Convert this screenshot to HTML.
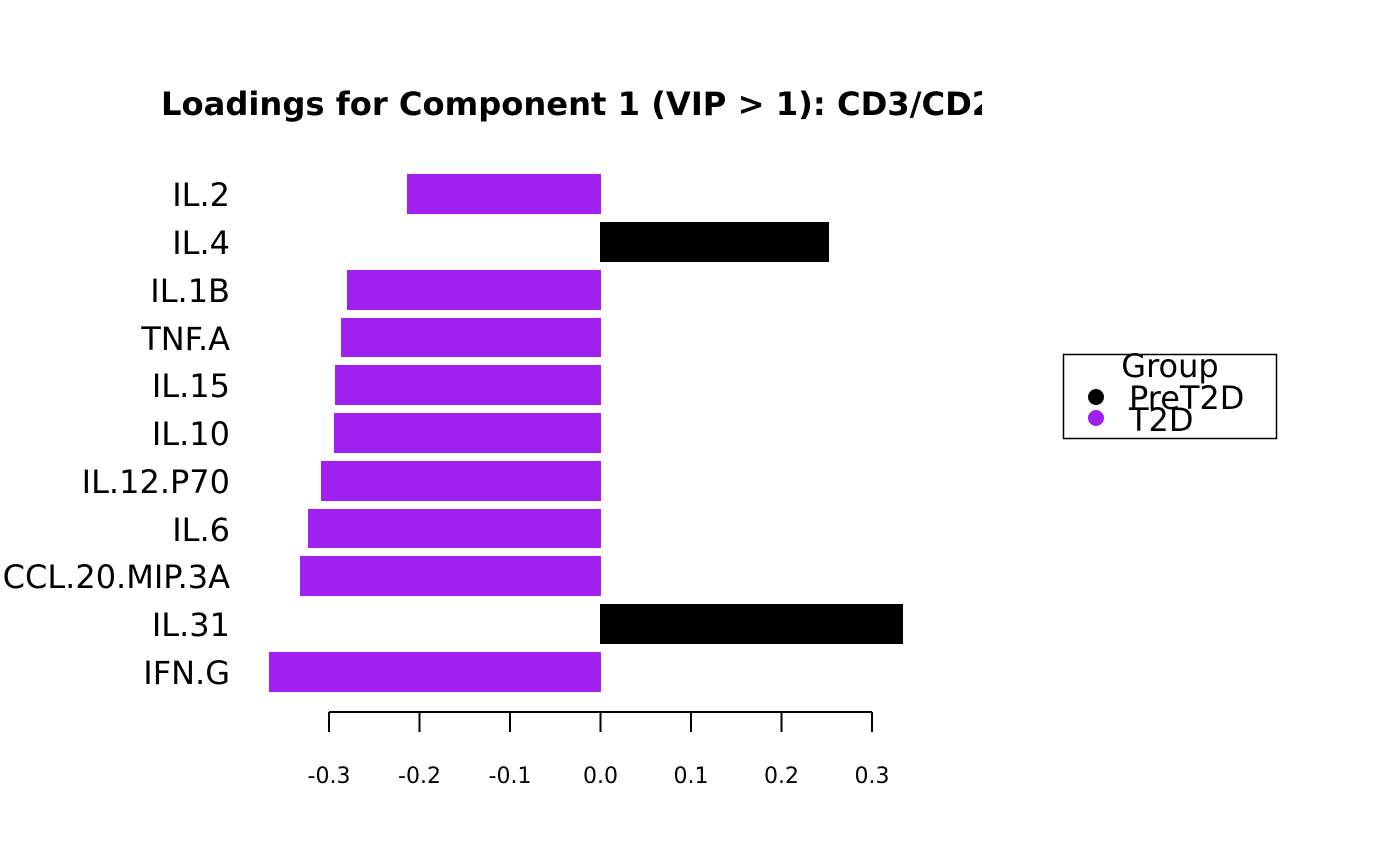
<!DOCTYPE html>
<html><head><style>
body{margin:0;background:#fff}
svg{display:block;font-family:"DejaVu Sans","Liberation Sans",sans-serif}
</style></head><body>
<svg width="1400" height="866" viewBox="0 0 1400 866" xmlns="http://www.w3.org/2000/svg">
<defs><clipPath id="c"><rect x="0" y="0" width="982" height="866"/></clipPath></defs>
<text x="161" y="115" font-size="32.2" font-weight="bold" clip-path="url(#c)">Loadings for Component 1 (VIP &gt; 1): CD3/CD28</text>
<g fill="#A020F0">
<rect x="407" y="174" width="194" height="40"/>
<rect x="347" y="270" width="254" height="40"/>
<rect x="341" y="318" width="260" height="39"/>
<rect x="335" y="365" width="266" height="40"/>
<rect x="334" y="413" width="267" height="40"/>
<rect x="321" y="461" width="280" height="40"/>
<rect x="308" y="509" width="293" height="39"/>
<rect x="300" y="556" width="301" height="40"/>
<rect x="269" y="652" width="332" height="40"/>
</g>
<g fill="#000">
<rect x="600" y="222" width="229" height="40"/>
<rect x="600" y="604" width="303" height="40"/>
</g>
<g font-size="32" text-anchor="end">
<text x="230" y="206">IL.2</text>
<text x="230" y="254">IL.4</text>
<text x="230" y="302">IL.1B</text>
<text x="230" y="350">TNF.A</text>
<text x="230" y="397">IL.15</text>
<text x="230" y="445">IL.10</text>
<text x="230" y="493">IL.12.P70</text>
<text x="230" y="541">IL.6</text>
<text x="230" y="588">CCL.20.MIP.3A</text>
<text x="230" y="636">IL.31</text>
<text x="230" y="684">IFN.G</text>
</g>
<g stroke="#000" stroke-width="2" fill="none">
<line x1="329" y1="712" x2="872" y2="712"/>
<line x1="329" y1="712" x2="329" y2="732"/>
<line x1="419.5" y1="712" x2="419.5" y2="732"/>
<line x1="510" y1="712" x2="510" y2="732"/>
<line x1="600.5" y1="712" x2="600.5" y2="732"/>
<line x1="691" y1="712" x2="691" y2="732"/>
<line x1="781.5" y1="712" x2="781.5" y2="732"/>
<line x1="872" y1="712" x2="872" y2="732"/>
</g>
<g font-size="22" text-anchor="middle">
<text x="329" y="783">-0.3</text>
<text x="419.5" y="783">-0.2</text>
<text x="510" y="783">-0.1</text>
<text x="600.5" y="783">0.0</text>
<text x="691" y="783">0.1</text>
<text x="781.5" y="783">0.2</text>
<text x="872" y="783">0.3</text>
</g>
<rect x="1063.5" y="354.5" width="213" height="84" fill="none" stroke="#000" stroke-width="1.5"/>
<text x="1170" y="377" font-size="32" text-anchor="middle">Group</text>
<circle cx="1096" cy="397" r="8" fill="#000"/>
<circle cx="1096" cy="418" r="8" fill="#A020F0"/>
<text x="1129" y="409" font-size="32">PreT2D</text>
<text x="1129" y="431" font-size="32">T2D</text>
</svg>
</body></html>
